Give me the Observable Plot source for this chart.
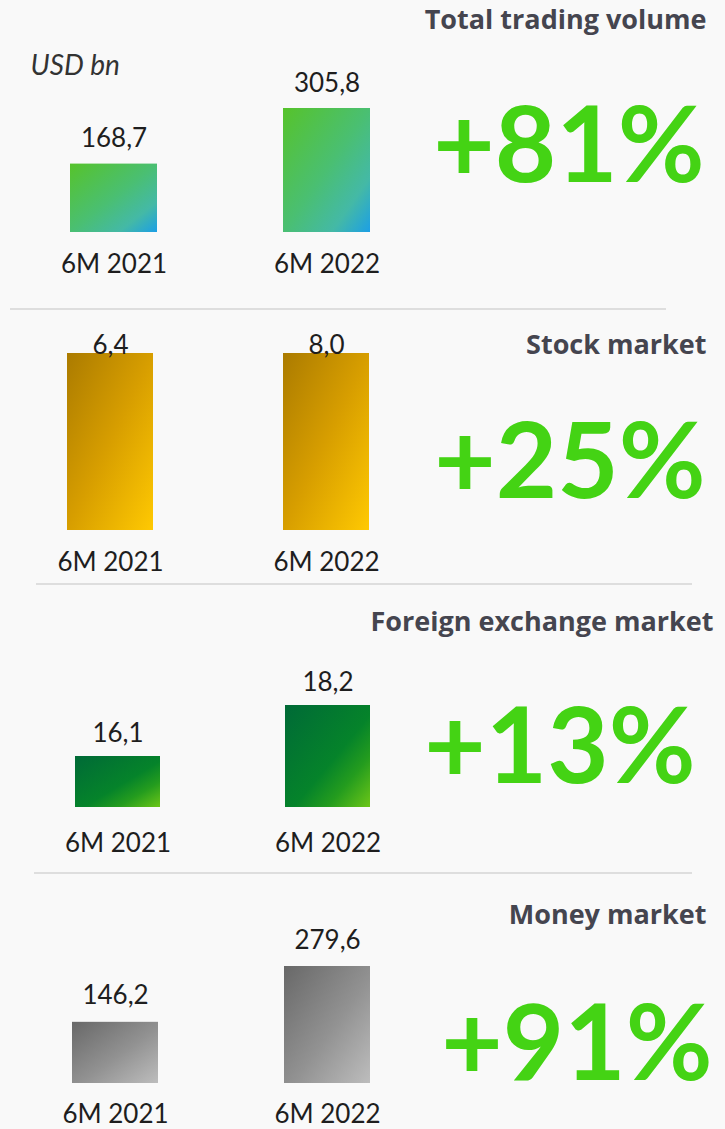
<!DOCTYPE html>
<html><head><meta charset="utf-8">
<script src="https://cdn.jsdelivr.net/npm/d3@7"></script>
<script src="https://cdn.jsdelivr.net/npm/@observablehq/plot@0.6"></script>
<style>
html,body{margin:0;padding:0;background:#f9f9f9;}
#chart{position:relative;width:725px;height:1129px;background:#f9f9f9;overflow:hidden;font-family:Lato,sans-serif;}
.panel{position:absolute;left:0;}
.sep{position:absolute;height:2px;background:#dedede;}
</style></head>
<body><div id="chart"></div>
<script>
// ---- data ----
const periods = ["6M 2021", "6M 2022"];
const panelTitles = ["Total trading volume", "Stock market", "Foreign exchange market", "Money market"];
const totalVolume = [168.7, 305.8];
const stockMarket = [6.4, 8.0];
const fxMarket = [16.1, 18.2];
const moneyMarket = [146.2, 279.6];
const growthLabels = ["+81%", "+25%", "+13%", "+91%"];
const unitLabel = "USD bn";
const fxAxisStart = 14; // value axis of the FX panel starts above zero

// ---- layout / style ----
const W = 725;
const green = "#44d314";
const panels = [
  {values: totalVolume, top: 0, h: 309, centers: [113.5, 327], bw: 87, yr: [232, 108],
   domain: v => [0, d3.max(v)], gap: 17, cat: 32, titleY: 20, titleR: 706, pctR: 704, pctY: 148,
   grad: [[0, "#56c32b"], [0.5, "#4abf72"], [0.78, "#44b9a6"], [1, "#1c9fe6"]]},
  {values: stockMarket, top: 310, h: 274, centers: [110, 326], bw: 86, yr: [220, 43],
   domain: v => [0, d3.min(v)], gap: 0, cat: 32, titleY: 35, titleR: 706, pctR: 705, pctY: 154,
   grad: [[0, "#ab7b00"], [0.5, "#d79e00"], [1, "#ffc902"]]},
  {values: fxMarket, top: 585, h: 288, centers: [117.5, 327.5], bw: 85, yr: [222, 120],
   domain: v => [fxAxisStart, d3.max(v)], gap: 15, cat: 36, titleY: 37, titleR: 713, pctR: 695, pctY: 164,
   grad: [[0, "#006a37"], [0.55, "#05832a"], [0.75, "#249c1e"], [1, "#6cc618"]]},
  {values: moneyMarket, top: 874, h: 255, centers: [115, 327], bw: 86, yr: [209, 92],
   domain: v => [0, d3.max(v)], gap: 18, cat: 31, titleY: 41, titleR: 706, pctR: 712, pctY: 172,
   grad: [[0, "#686868"], [0.55, "#929292"], [1, "#bdbdbd"]]}
];
const seps = [{y: 308, x0: 10, x1: 666}, {y: 583, x0: 36, x1: 692}, {y: 872, x0: 34, x1: 692}];

const fmt = v => d3.format(".1f")(v).replace(".", ",");
const chart = document.getElementById("chart");

panels.forEach((p, i) => {
  const data = periods.map((period, j) => ({period, value: p.values[j]}));
  const step = p.centers[1] - p.centers[0];
  const pi = 1 - p.bw / step;
  const gid = "grad" + i;
  const marks = [
    Plot.barY(data, {x: "period", y: "value", fill: `url(#${gid})`}),
    Plot.text(data, {x: "period", y: "value", text: d => fmt(d.value), dy: -p.gap, lineAnchor: "bottom",
      fontSize: 26, fill: "#1e1e1e", fontFamily: "Lato"}),
    Plot.text(data, {x: "period", y: () => p.domain(p.values)[0], text: "period", dy: p.cat,
      lineAnchor: "middle", fontSize: 26, fill: "#1e1e1e", fontFamily: "Lato"}),
    Plot.text([panelTitles[i]], {text: d => d, frameAnchor: "top-right", dx: p.titleR - W, dy: p.titleY,
      textAnchor: "end", lineAnchor: "middle", fontSize: 27, fontWeight: "bold", fill: "#45454f",
      fontFamily: "Open Sans"}),
    Plot.text([growthLabels[i]], {text: d => d, frameAnchor: "top-right", dx: p.pctR - W, dy: p.pctY,
      textAnchor: "end", lineAnchor: "middle", fontSize: 106, fontWeight: "bold", fill: green, fontFamily: "Lato"})
  ];
  if (i === 0) marks.push(Plot.text([unitLabel], {text: d => d, frameAnchor: "top-left", dx: 30, dy: 66,
      textAnchor: "start", lineAnchor: "middle", fontSize: 28, fontStyle: "italic", fill: "#333", fontFamily: "Lato"}));
  const svg = Plot.plot({
    width: W, height: p.h, margin: 0,
    style: {background: "transparent", fontFamily: "Lato", overflow: "visible"},
    x: {type: "band", domain: periods, range: [p.centers[0] - step / 2, p.centers[1] + step / 2],
        paddingInner: pi, paddingOuter: pi / 2, axis: null},
    y: {domain: p.domain(p.values), range: p.yr, clamp: true, axis: null},
    marks
  });
  const defs = d3.select(svg).insert("defs", ":first-child");
  const lg = defs.append("linearGradient").attr("id", gid)
    .attr("x1", 0).attr("y1", 0).attr("x2", 1).attr("y2", 1);
  p.grad.forEach(([o, c]) => lg.append("stop").attr("offset", o).attr("stop-color", c));
  const wrap = document.createElement("div");
  wrap.className = "panel";
  wrap.style.top = p.top + "px";
  wrap.appendChild(svg);
  chart.appendChild(wrap);
});
seps.forEach(s => {
  const d = document.createElement("div");
  d.className = "sep";
  d.style.top = s.y + "px"; d.style.left = s.x0 + "px"; d.style.width = (s.x1 - s.x0) + "px";
  chart.appendChild(d);
});
</script>
</body></html>
